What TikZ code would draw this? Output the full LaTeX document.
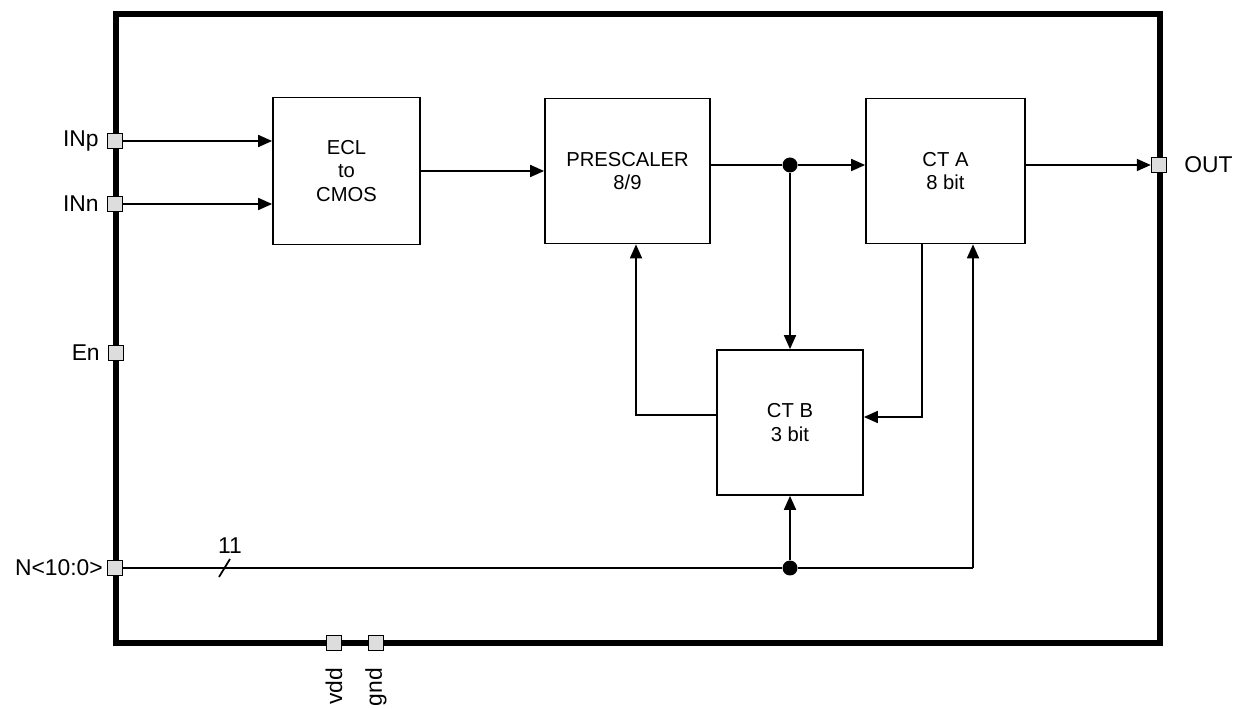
\documentclass[tikz,border=0pt]{standalone}
\usepackage{fontspec}
\setmainfont{Liberation Sans}
\usetikzlibrary{arrows.meta,positioning,calc}
\definecolor{pingray}{RGB}{221,221,221}
\tikzset{
  block/.style={rectangle, draw=black, line width=1pt, fill=white,
                align=center, font={\fontsize{11.5}{13.6}\selectfont}},
  pin/.style={rectangle, draw=black, line width=0.8pt, fill=pingray,
              minimum size=0.3cm, inner sep=0pt},
  pinlabel/.style={font={\fontsize{13}{14}\selectfont}, inner sep=1pt},
  frame/.style={line width=3pt},
  wire/.style={line width=1pt},
  arrow/.style={wire, -{Triangle[length=2.8mm, width=2.4mm]}},
  junction/.style={circle, fill=black, minimum size=0.3cm, inner sep=0pt},
}
\begin{document}
\begin{tikzpicture}[x=0.02cm, y=-0.02cm]
\useasboundingbox (0,0) rectangle (1241,709);
% outline of the chip
\draw[frame] (116,14) rectangle (1160,643);

% blocks
\node[block, minimum width=2.94cm, minimum height=2.94cm] (ecl) at (346.5,171) {ECL\\to\\CMOS};
\node[block, minimum width=3.3cm, minimum height=2.9cm] (pre) at (627.5,171) {PRESCALER\\8/9};
\node[block, minimum width=3.18cm, minimum height=2.9cm] (cta) at (945.5,171) {CT A\\8 bit};
\node[block, minimum width=2.92cm, minimum height=2.9cm] (ctb) at (790,422.5) {CT B\\3 bit};

% pins
\node[pin] (inp) at (115,141) {};
\node[pin] (inn) at (115,204) {};
\node[pin] (en) at (116,353) {};
\node[pin] (nbus) at (115,568) {};
\node[pin] (out) at (1159,165) {};
\node[pin] (vdd) at (334,643) {};
\node[pin] (gnd) at (376,643) {};
\node[pinlabel, left=0.12cm of inp] {INp};
\node[pinlabel, left=0.12cm of inn] {INn};
\node[pinlabel, left=0.12cm of en] {En};
\node[pinlabel, left=0.04cm of nbus] {N<10:0>};
\node[pinlabel, right=0.3cm of out] {OUT};
\node[pinlabel, rotate=90, anchor=east] at (334,666) {vdd};
\node[pinlabel, rotate=90, anchor=east] at (376,666) {gnd};

% junctions and bends
\coordinate (c1) at (922,417);
\coordinate (c2) at (636,415);
\coordinate (c3) at (973,568);
\node[junction] (j1) at (790,165) {};
\node[junction] (j2) at (790,568) {};

% connections
\draw[arrow] (inp.east) -- (inp -| ecl.west);
\draw[arrow] (inn.east) -- (inn -| ecl.west);
\draw[arrow] (ecl.east) -- (pre.west);
\draw[wire] (pre.east |- j1) -- (j1);
\draw[arrow] (j1) -- (j1 -| cta.west);
\draw[arrow] (j1) -- (ctb.north);
\draw[arrow] (cta.east |- out) -- (out.west);
\draw[arrow] (cta.south -| c1) |- (ctb.east |- c1);
\draw[arrow] (ctb.west |- c2) -| (pre.south -| c2);
\draw[wire] (nbus.east) -- (j2) -- (c3);
\draw[arrow] (c3) -- (cta.south -| c3);
\draw[arrow] (j2) -- (ctb.south);
% bus width mark
\draw[wire] (219,577) -- (230,559) node[pinlabel, above=0.05cm] (w) {11};
\end{tikzpicture}
\end{document}
